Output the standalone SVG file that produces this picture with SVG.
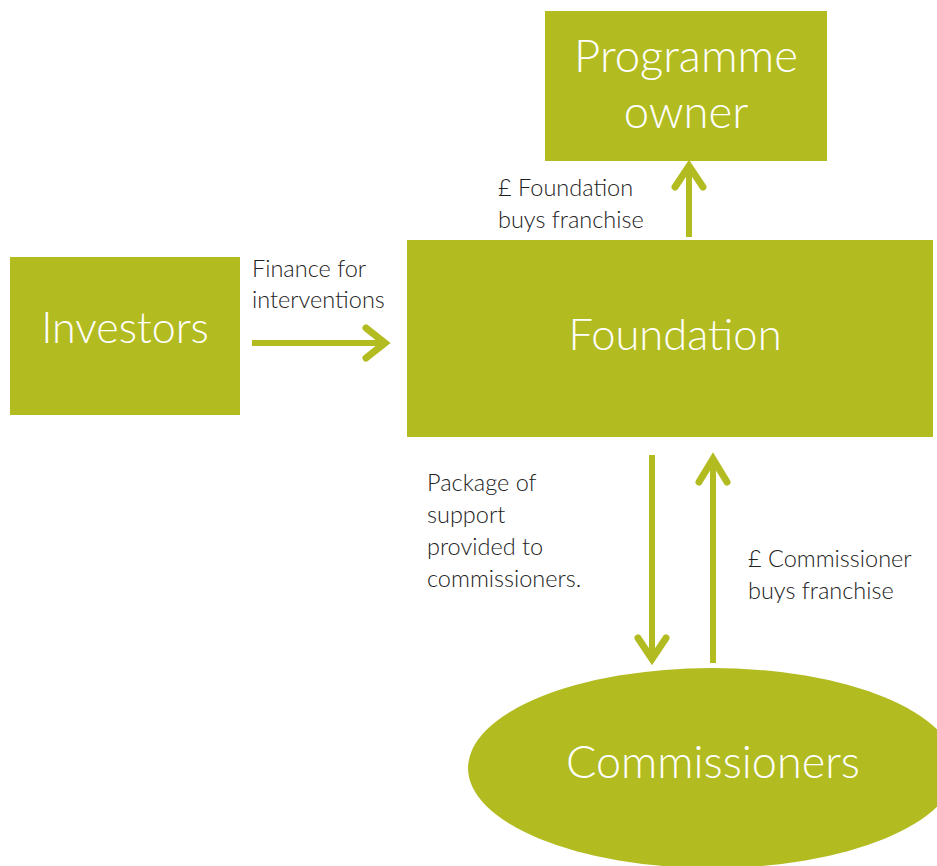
<svg xmlns="http://www.w3.org/2000/svg" width="937" height="866" viewBox="0 0 937 866">
<style>
.box{fill:#B2BC20}
.t{font-family:Lato,"Open Sans","Liberation Sans",sans-serif;font-weight:300;fill:#fff;text-anchor:middle}
.lbl{font-family:Lato,"Open Sans","Liberation Sans",sans-serif;font-weight:300;fill:#222;font-size:23.5px}
.ln{stroke:#B2BC20;stroke-width:6;fill:none}
.hd{stroke:#B2BC20;stroke-width:7;fill:none;stroke-linecap:round;stroke-linejoin:miter}
</style>
<rect width="937" height="866" fill="#fff"/>
<g id="programme-owner">
<rect class="box" x="545" y="11" width="282" height="150"/>
<text class="t" x="686" y="72" font-size="45.5">Programme</text>
<text class="t" x="686" y="128" font-size="45.5">owner</text>
</g>
<g id="investors">
<rect class="box" x="10" y="257" width="230" height="158"/>
<text class="t" x="125" y="343" font-size="43">Investors</text>
</g>
<g id="foundation">
<rect class="box" x="407" y="240" width="526" height="197"/>
<text class="t" x="675" y="350" font-size="43.5">Foundation</text>
</g>
<g id="commissioners">
<ellipse class="box" cx="712" cy="768" rx="244" ry="100"/>
<text class="t" x="713" y="778" font-size="45">Commissioners</text>
</g>
<g id="connectors">
<line class="ln" x1="252" y1="343" x2="384" y2="343"/>
<polyline class="hd" points="366,328 385,343 366,358"/>
<line class="ln" x1="689" y1="237" x2="689" y2="168"/>
<polyline class="hd" points="675,187 689,166 703,187"/>
<line class="ln" x1="652" y1="455" x2="652" y2="657"/>
<polyline class="hd" points="638,638 652,659 666,638"/>
<line class="ln" x1="713" y1="663" x2="713" y2="460"/>
<polyline class="hd" points="699,482 713,459 727,482"/>
</g>
<g id="labels">
<text class="lbl" x="252" y="277">Finance for</text>
<text class="lbl" x="252" y="308">interventions</text>
<text class="lbl" x="498" y="196">£ Foundation</text>
<text class="lbl" x="498" y="228">buys franchise</text>
<text class="lbl" x="427" y="491">Package of</text>
<text class="lbl" x="427" y="523">support</text>
<text class="lbl" x="427" y="555">provided to</text>
<text class="lbl" x="427" y="587">commissioners.</text>
<text class="lbl" x="748" y="567">£ Commissioner</text>
<text class="lbl" x="748" y="599">buys franchise</text>
</g>
</svg>
